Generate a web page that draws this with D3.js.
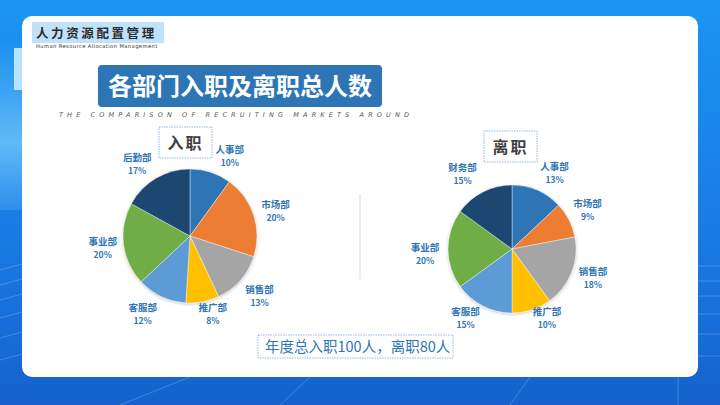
<!DOCTYPE html>
<html>
<head>
<meta charset="utf-8">
<script src="https://d3js.org/d3.v7.min.js"></script>
<style>
  html, body { margin: 0; padding: 0; background: #1668d2; }
  svg { display: block; font-family: "Noto Sans CJK SC", "Noto Sans", sans-serif; }
</style>
</head>
<body>
<div id="chart"></div>
<script>
// Chart data
const hireDepts = ["人事部", "市场部", "销售部", "推广部", "客服部", "事业部", "后勤部"];
const hireValues = [10, 20, 13, 8, 12, 20, 17];
const leaveDepts = ["人事部", "市场部", "销售部", "推广部", "客服部", "事业部", "财务部"];
const leaveValues = [13, 9, 18, 10, 15, 20, 15];
const sliceColors = ["#2e75b6", "#ed7d31", "#a5a5a5", "#ffc000", "#5b9bd5", "#70ad47", "#1f4670"];

const width = 720, height = 405;

const svg = d3.select('#chart')
    .append('svg')
    .attr('width', width)
    .attr('height', height);

const defs = svg.append('defs');

// Background gradient
const bg = defs.append('linearGradient')
    .attr('id', 'bg-grad')
    .attr('x1', 0).attr('y1', 0).attr('x2', 0).attr('y2', 1);
bg.append('stop').attr('offset', '0%').attr('stop-color', '#1a95f2');
bg.append('stop').attr('offset', '55%').attr('stop-color', '#1a7ce6');
bg.append('stop').attr('offset', '100%').attr('stop-color', '#1562cc');

const leftGlow = defs.append('linearGradient')
    .attr('id', 'left-glow')
    .attr('x1', 0).attr('y1', 0).attr('x2', 0).attr('y2', 1);
leftGlow.append('stop').attr('offset', '0%').attr('stop-color', '#7fd0ff').attr('stop-opacity', 0.0);
leftGlow.append('stop').attr('offset', '60%').attr('stop-color', '#7fd0ff').attr('stop-opacity', 0.7);
leftGlow.append('stop').attr('offset', '100%').attr('stop-color', '#7fd0ff').attr('stop-opacity', 0.2);

const shadow = defs.append('filter')
    .attr('id', 'pie-shadow')
    .attr('x', '-20%').attr('y', '-20%').attr('width', '140%').attr('height', '140%');
shadow.append('feDropShadow')
    .attr('dx', 0).attr('dy', 1)
    .attr('stdDeviation', 1.5)
    .attr('flood-color', '#000')
    .attr('flood-opacity', 0.25);

svg.append('rect')
    .attr('width', width).attr('height', height)
    .attr('fill', 'url(#bg-grad)');

// Decorative light panels on the left
svg.append('rect')
    .attr('x', 0).attr('y', 40).attr('width', 22).attr('height', 170)
    .attr('fill', 'url(#left-glow)');
svg.append('rect')
    .attr('x', 14).attr('y', 48).attr('width', 10).attr('height', 42)
    .attr('fill', '#b7e4ff');

// Perspective grid lines in the lower background
const grid = svg.append('g')
    .attr('stroke', '#ffffff')
    .attr('stroke-opacity', 0.25)
    .attr('stroke-width', 0.8);
[270, 285, 300, 318, 338, 360].forEach(y => {
    grid.append('line').attr('x1', 0).attr('x2', 22).attr('y1', y).attr('y2', y - 6);
    grid.append('line').attr('x1', 698).attr('x2', 720).attr('y1', y - 4).attr('y2', y - 4);
});
grid.append('line').attr('x1', 120).attr('y1', 405).attr('x2', 190).attr('y2', 377);
grid.append('line').attr('x1', 280).attr('y1', 405).attr('x2', 310).attr('y2', 377);
grid.append('line').attr('x1', 510).attr('y1', 405).attr('x2', 530).attr('y2', 377);
grid.append('line').attr('x1', 678).attr('y1', 405).attr('x2', 678).attr('y2', 377);

// White card
svg.append('rect')
    .attr('x', 22).attr('y', 16)
    .attr('width', 676).attr('height', 361)
    .attr('rx', 10)
    .attr('fill', '#ffffff');

// Header
svg.append('rect')
    .attr('x', 32).attr('y', 22).attr('width', 132).attr('height', 21)
    .attr('fill', '#bfe2fa');
svg.append('text')
    .attr('x', 36).attr('y', 38)
    .attr('font-size', 12.5)
    .attr('font-weight', 'bold')
    .attr('letter-spacing', 2.6)
    .attr('fill', '#2b2b2b')
    .text('人力资源配置管理');
svg.append('text')
    .attr('x', 36).attr('y', 48)
    .attr('font-size', 5.2)
    .attr('font-family', 'DejaVu Sans, sans-serif')
    .attr('letter-spacing', 0.4)
    .attr('fill', '#333')
    .text('Human Resource Allocation Management');

// Main title
svg.append('rect')
    .attr('x', 98).attr('y', 65).attr('width', 284).attr('height', 42)
    .attr('rx', 4)
    .attr('fill', '#2e75b6');
svg.append('text')
    .attr('x', 240).attr('y', 95)
    .attr('text-anchor', 'middle')
    .attr('font-size', 24)
    .attr('font-weight', 'bold')
    .attr('fill', '#ffffff')
    .text('各部门入职及离职总人数');
svg.append('text')
    .attr('x', 59).attr('y', 117)
    .attr('font-size', 6.5)
    .attr('font-style', 'italic')
    .attr('font-family', 'DejaVu Sans, sans-serif')
    .attr('textLength', 350)
    .attr('lengthAdjust', 'spacing')
    .attr('fill', '#555')
    .text('THE COMPARISON OF RECRUITING MARKETS AROUND');

// Divider between pies
svg.append('line')
    .attr('x1', 360).attr('x2', 360)
    .attr('y1', 194).attr('y2', 279)
    .attr('stroke', '#ececec')
    .attr('stroke-width', 2);

function drawPie(cfg) {
    const total = d3.sum(cfg.values);
    const data = cfg.names.map((name, i) => ({ name, value: cfg.values[i], color: sliceColors[i] }));

    const pie = d3.pie().value(d => d.value).sort(null);
    const arc = d3.arc().innerRadius(0).outerRadius(cfg.radius);
    const labelArc = d3.arc().innerRadius(cfg.labelRadius).outerRadius(cfg.labelRadius);

    const g = svg.append('g').attr('transform', `translate(${cfg.cx}, ${cfg.cy})`);
    const arcs = pie(data);

    g.append('g')
        .attr('filter', 'url(#pie-shadow)')
        .selectAll('path')
        .data(arcs)
        .join('path')
        .attr('d', arc)
        .attr('fill', d => d.data.color)
        .attr('stroke', '#ffffff')
        .attr('stroke-width', 0.4);

    // labels sit on a ring outside the pie, nudged like the original's best-fit placement
    const labels = g.append('g')
        .selectAll('g')
        .data(arcs)
        .join('g')
        .attr('transform', (d, i) => {
            const [x, y] = labelArc.centroid(d);
            const [nx, ny] = cfg.nudge[i];
            return `translate(${x + nx}, ${y + ny})`;
        })
        .attr('text-anchor', 'middle')
        .attr('font-weight', 'bold')
        .attr('fill', '#2e75b6');

    labels.append('text')
        .attr('y', -3)
        .attr('font-size', 9.5)
        .text(d => d.data.name);
    labels.append('text')
        .attr('y', 10)
        .attr('font-size', 8.5)
        .text(d => Math.round(d.data.value / total * 100) + '%');

    // Title box above pie
    svg.append('rect')
        .attr('x', cfg.boxX).attr('y', cfg.boxY)
        .attr('width', 53).attr('height', 31)
        .attr('fill', 'none')
        .attr('stroke', '#7da7d0')
        .attr('stroke-width', 0.8)
        .attr('stroke-dasharray', '1.5,1');
    svg.append('text')
        .attr('x', cfg.boxX + 26.5).attr('y', cfg.boxY + 21.5)
        .attr('text-anchor', 'middle')
        .attr('font-size', 16)
        .attr('font-weight', 'bold')
        .attr('letter-spacing', 2)
        .attr('fill', '#3f3f3f')
        .text(cfg.title);
}

drawPie({
    names: hireDepts, values: hireValues,
    cx: 190, cy: 236, radius: 67, labelRadius: 90,
    nudge: [[12, 6], [0, 3], [2, 0], [6, -10], [-9, -3], [2, 1], [-7, 5]],
    title: '入职', boxX: 159, boxY: 127
});

drawPie({
    names: leaveDepts, values: leaveValues,
    cx: 512, cy: 249, radius: 64, labelRadius: 87,
    nudge: [[8, 4], [-2, 0], [0, -3], [8, -14], [-7, -9], [0, 5], [-10, 3]],
    title: '离职', boxX: 484, boxY: 131
});

// Summary box
svg.append('rect')
    .attr('x', 258).attr('y', 335).attr('width', 195).attr('height', 23)
    .attr('fill', 'none')
    .attr('stroke', '#7da7d0')
    .attr('stroke-width', 0.8)
    .attr('stroke-dasharray', '1.5,1');
svg.append('text')
    .attr('x', 265).attr('y', 352)
    .attr('font-size', 14.5)
    .attr('fill', '#2e75b6')
    .text('年度总入职100人，离职80人');
</script>
</body>
</html>
